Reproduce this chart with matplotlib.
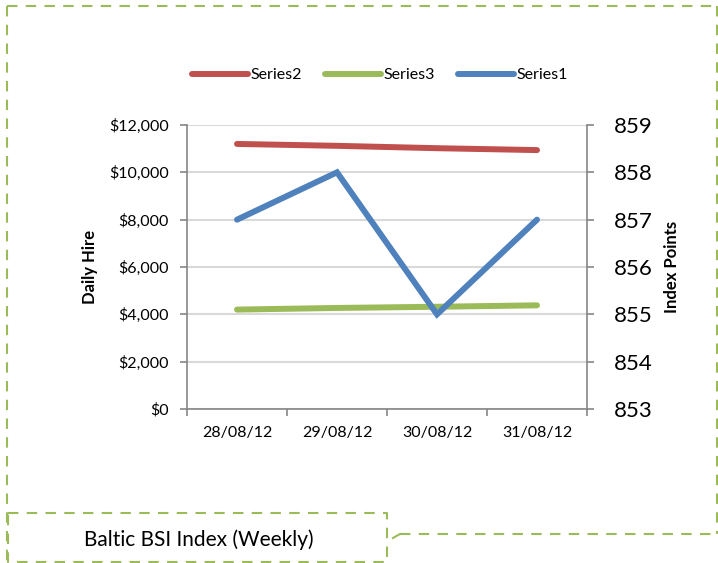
import matplotlib
matplotlib.use("Agg")
import matplotlib.pyplot as plt
from matplotlib.lines import Line2D
from matplotlib.patches import Rectangle

plt.rcParams['font.family'] = ['Lato', 'DejaVu Sans']

# data
dates = ['28/08/12', '29/08/12', '30/08/12', '31/08/12']
series2 = [11200, 11120, 11020, 10940]   # daily hire, left axis
series3 = [4200, 4270, 4320, 4380]       # daily hire, left axis
series1 = [857, 858, 855, 857]           # index points, right axis
left_ticks = [0, 2000, 4000, 6000, 8000, 10000, 12000]
right_ticks = [853, 854, 855, 856, 857, 858, 859]

RED = '#C0504D'
GREEN = '#9BBB59'
BLUE = '#4F81BD'
AXC = '#868686'
GRID = '#D9D9D9'

W, H = 718, 563
fig = plt.figure(figsize=(W / 100, H / 100), dpi=100)


def fx(x):
    return x / W


def fy(y):
    return 1 - y / H


ax = fig.add_axes([fx(187), fy(409), fx(587) - fx(187), fy(125) - fy(409)])
ax2 = ax.twinx()

xs = list(range(len(dates)))
l2, = ax.plot(xs, series2, color=RED, lw=4.3, solid_capstyle='round', label='Series2')
l3, = ax.plot(xs, series3, color=GREEN, lw=4.3, solid_capstyle='round', label='Series3')
l1, = ax2.plot(xs, series1, color=BLUE, lw=4.3, solid_capstyle='round',
               solid_joinstyle='miter', label='Series1')

ax.set_xlim(-0.5, len(dates) - 0.5)
ax.set_ylim(0, 12000)
ax2.set_ylim(853, 859)
ax.set_yticks(left_ticks)
ax.set_yticklabels(['${:,}'.format(v) for v in left_ticks], fontsize=11.5)
ax2.set_yticks(right_ticks)
ax2.set_yticklabels([str(v) for v in right_ticks], fontsize=16)

ax.set_xticks([x - 0.5 for x in range(len(dates) + 1)])
ax.set_xticklabels([])
ax.set_xticks(xs, minor=True)
ax.set_xticklabels(dates, minor=True, fontsize=11.5)
ax.tick_params(axis='x', which='minor', length=0, pad=12)
ax.tick_params(axis='x', which='major', length=5, color=AXC, width=1.2)
ax.tick_params(axis='y', length=5, color=AXC, width=1.2, pad=8)
ax2.tick_params(axis='y', length=5, color=AXC, width=1.2, pad=14)

ax.grid(axis='y', color=GRID, lw=1.5)
ax.set_axisbelow(True)
for a in (ax, ax2):
    for side in ('top', 'right', 'left', 'bottom'):
        a.spines[side].set_visible(False)
ax.spines['left'].set_visible(True)
ax.spines['bottom'].set_visible(True)
ax2.spines['right'].set_visible(True)
for s in (ax.spines['left'], ax.spines['bottom'], ax2.spines['right']):
    s.set_color(AXC)
    s.set_linewidth(1.2)

fig.text(fx(90), fy(267), 'Daily Hire', rotation=90, ha='center', va='center',
         fontsize=12, fontweight='bold')
fig.text(fx(672), fy(267), 'Index Points', rotation=90, ha='center', va='center',
         fontsize=12, fontweight='bold')

fig.legend([l2, l3, l1], ['Series2', 'Series3', 'Series1'], loc='center',
           bbox_to_anchor=(fx(380), fy(75)), ncol=3, frameon=False, fontsize=11.5,
           handlelength=3.5, handletextpad=0.2, columnspacing=1.4)

# dashed green frame and the title box
dash = dict(color=GREEN, lw=1.5, linestyle=(0, (5, 4)), transform=fig.transFigure)
fig.add_artist(Line2D([fx(7), fx(717)], [fy(6), fy(6)], **dash))
fig.add_artist(Line2D([fx(7), fx(7)], [fy(6), fy(562)], **dash))
fig.add_artist(Line2D([fx(717), fx(717)], [fy(6), fy(534)], **dash))
fig.add_artist(Line2D([fx(400), fx(717)], [fy(534), fy(534)], **dash))
fig.add_artist(Line2D([fx(393), fx(400)], [fy(538), fy(534)], color=GREEN, lw=1.5,
                      transform=fig.transFigure))
fig.add_artist(Rectangle((fx(8), fy(562)), fx(387) - fx(8), fy(513) - fy(562),
                         facecolor='white', edgecolor='none', transform=fig.transFigure))
fig.add_artist(Line2D([fx(8), fx(387), fx(387), fx(8), fx(8)],
                      [fy(513), fy(513), fy(562), fy(562), fy(513)], **dash))
fig.text(fx(199), fy(540), 'Baltic BSI Index (Weekly)', ha='center', va='center',
         fontsize=15)

fig.savefig('out.png', dpi=100)
